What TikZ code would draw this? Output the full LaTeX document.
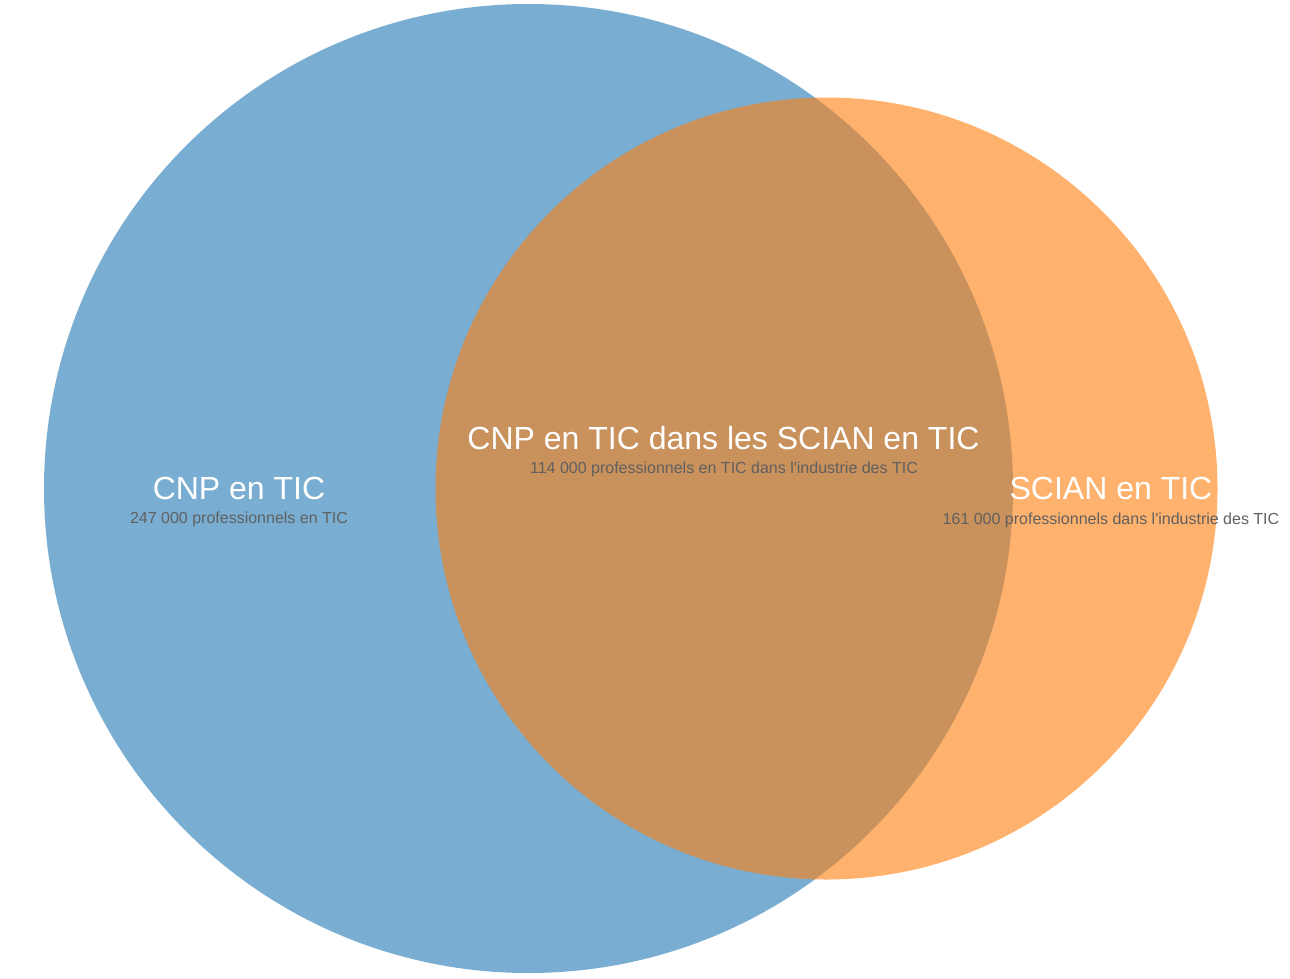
\documentclass[tikz,border=0pt]{standalone}
\usepackage{fontspec}
\setmainfont{Liberation Sans}
\definecolor{cblue}{HTML}{1F77B4}
\definecolor{corange}{HTML}{FF7F0E}
\definecolor{subgray}{HTML}{606060}
\begin{document}
\begin{tikzpicture}[x=1pt,y=-1pt,
  setcirc/.style={fill opacity=0.6, draw=none},
  title/.style={anchor=base, text=white, font=\fontsize{32}{36}\selectfont, inner sep=0pt},
  sub/.style={anchor=base, text=subgray, font=\fontsize{16}{18}\selectfont, inner sep=0pt}]
\useasboundingbox (0,0) rectangle (1290,978);
\fill[setcirc, cblue] (528.5,488.5) circle[radius=484.5pt];
\fill[setcirc, corange] (826.5,488.5) circle[radius=391pt];
\node[title] (tA) at (239,499) {CNP en TIC};
\node[sub] (sA) at (239,523) {247 000 professionnels en TIC};
\node[title] (tAB) at (723.5,449) {CNP en TIC dans les SCIAN en TIC};
\node[sub] (sAB) at (724,473) {114 000 professionnels en TIC dans l\textquotesingle industrie des TIC};
\node[title] (tB) at (1111,499) {SCIAN en TIC};
\node[sub] (sB) at (1111,524) {161 000 professionnels dans l\textquotesingle industrie des TIC};
\end{tikzpicture}
\end{document}
